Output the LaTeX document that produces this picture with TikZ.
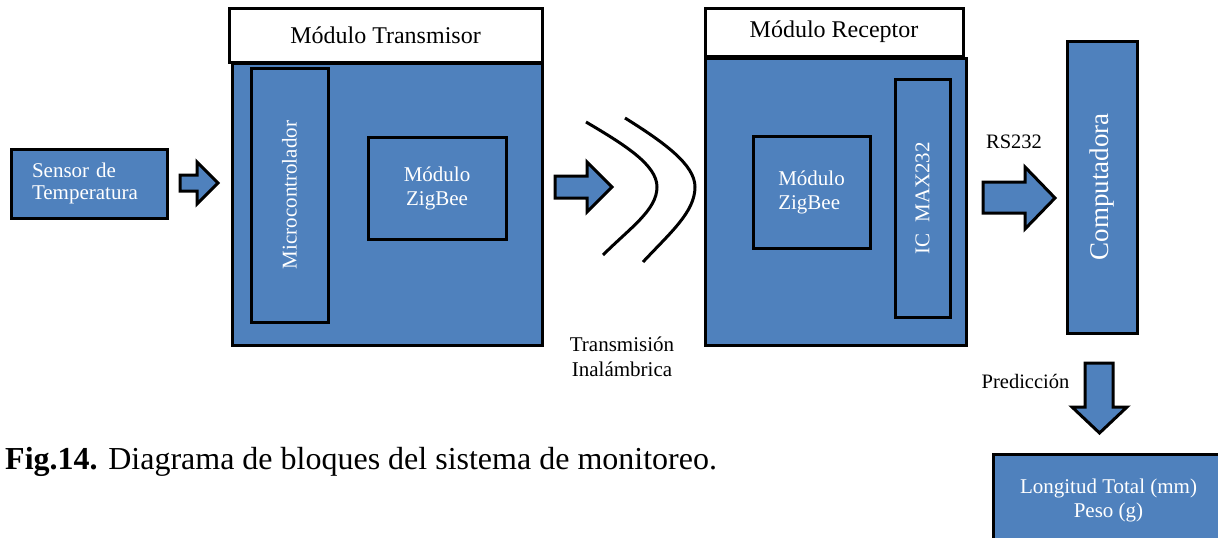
\documentclass[tikz,border=0pt]{standalone}
\usepackage{fontspec}
\setmainfont{Liberation Serif}
\usepackage{tikz}
\usepackage{xcolor}
\definecolor{bloqueazul}{RGB}{79,129,189}
\tikzset{
    bloco/.style={draw=black, fill=bloqueazul, line width=3pt, text=white, inner sep=0pt, align=center, font=\fontsize{21}{24}\selectfont},
    titulo/.style={draw=black, fill=white, line width=3pt, inner sep=0pt, font=\fontsize{24}{28}\selectfont},
    seta/.style={draw=black, fill=bloqueazul, line width=3pt, line join=miter},
    onda/.style={draw=black, line width=3pt},
    rotulo/.style={inner sep=0pt, align=center, font=\fontsize{21}{25}\selectfont}
}

\begin{document}
\begin{tikzpicture}[x=1pt, y=-1pt]
    \useasboundingbox (0,0) rectangle (1218,538);
    \clip (0,0) rectangle (1218,538);
    % sensor
    \node[bloco, minimum width=156pt, minimum height=69pt, text width=114pt, align=left, font=\fontsize{21}{22}\selectfont] (sensor) at (89,183.5) {Sensor de\\Temperatura};
    \draw[seta] (180,175) -- (197,175) -- (197,162) -- (218,183) -- (197,204) -- (197,191) -- (180,191) -- cycle;
    % modulo transmisor
    \node[bloco, minimum width=310pt, minimum height=282pt] (tx) at (387,204) {};
    \node[titulo, minimum width=313pt, minimum height=54pt] (tituloTx) at (385.5,35) {Módulo Transmisor};
    \node[bloco, rotate=90, minimum width=254pt, minimum height=77pt] (micro) at (289.5,195) {Microcontrolador};
    \node[bloco, minimum width=138pt, minimum height=102pt] (zigbeeTx) at (437,188) {Módulo\\ZigBee};
    % transmision inalambrica
    \draw[seta] (555,176) -- (587,176) -- (587,162) -- (612,187) -- (587,212) -- (587,198) -- (555,198) -- cycle;
    \draw[onda] (586,122) .. controls (625,145) and (657,165) .. (657,187) .. controls (657,210) and (630,228) .. (603,255);
    \draw[onda] (625,118) .. controls (665,143) and (695,165) .. (695,187) .. controls (695,212) and (670,233) .. (643,262);
    \node[rotulo] (inalambrica) at (622,357) {Transmisión\\Inalámbrica};
    % modulo receptor
    \node[bloco, minimum width=261pt, minimum height=287pt] (rx) at (835.5,201.5) {};
    \node[titulo, minimum width=258pt, minimum height=48pt] (tituloRx) at (834,32) {Módulo Receptor};
    \node[bloco, minimum width=117pt, minimum height=112pt, align=left] (zigbeeRx) at (811.5,192) {Módulo\\ZigBee};
    \node[bloco, rotate=90, minimum width=238pt, minimum height=55pt] (max) at (922.5,198) {IC~~MAX232};
    % computadora
    \node[rotulo, font=\fontsize{20.5}{24}\selectfont] (rs) at (1014,142) {RS232};
    \draw[seta] (983,182) -- (1025,182) -- (1025,167) -- (1055,198) -- (1025,229) -- (1025,213) -- (983,213) -- cycle;
    \node[bloco, rotate=90, minimum width=292pt, minimum height=70pt, font=\fontsize{27}{30}\selectfont] (computadora) at (1102,187) {Computadora};
    \node[rotulo, font=\fontsize{20.5}{24}\selectfont] (prediccion) at (1025.5,381) {Predicción};
    \draw[seta] (1085,363) -- (1113,363) -- (1113,407) -- (1127,407) -- (1099.5,433) -- (1072,407) -- (1085,407) -- cycle;
    \node[bloco, minimum width=231pt, minimum height=92pt] (resultado) at (1108.5,500) {Longitud Total (mm)\\Peso (g)};
    % leyenda
    \node[anchor=base west, inner sep=0pt, font=\fontsize{32}{36}\selectfont] (leyenda) at (5,469) {\textbf{Fig.14.} Diagrama de bloques del sistema de monitoreo.};
\end{tikzpicture}
\end{document}
